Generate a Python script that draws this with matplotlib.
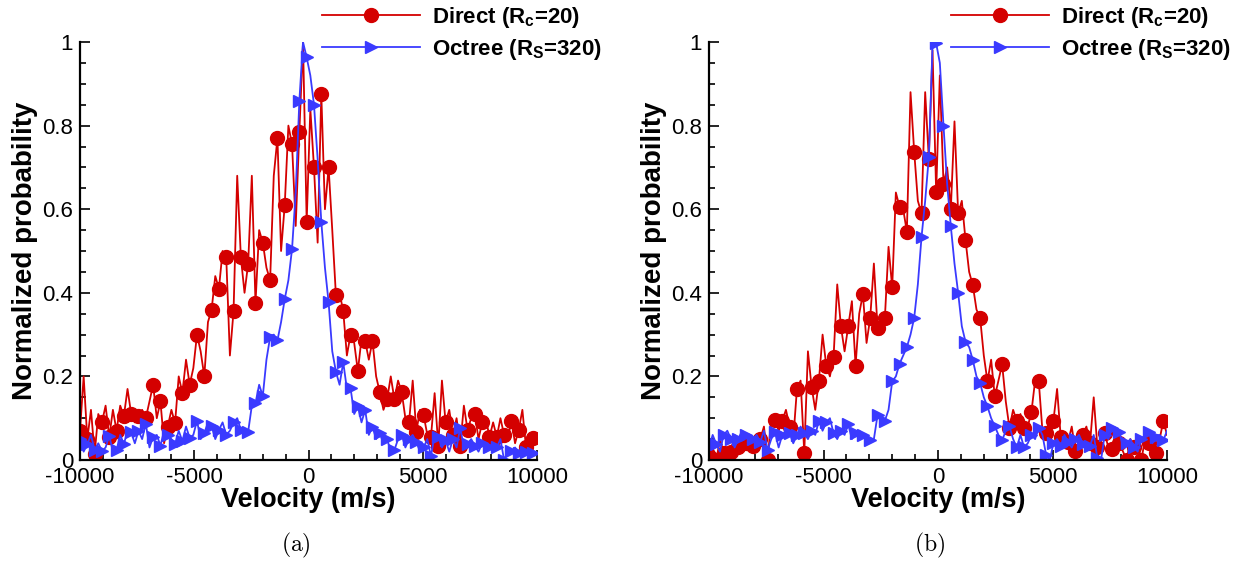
import numpy as np
import matplotlib
matplotlib.use("Agg")
import matplotlib.pyplot as plt
from matplotlib.ticker import MultipleLocator, FuncFormatter

plt.rcParams['font.family'] = ['Liberation Sans', 'DejaVu Sans']
plt.rcParams['axes.unicode_minus'] = False
plt.rcParams['mathtext.fontset'] = 'custom'
plt.rcParams['mathtext.rm'] = 'Liberation Sans'
plt.rcParams['mathtext.bf'] = 'Liberation Sans:bold'
plt.rcParams['mathtext.default'] = 'bf'

# velocity grid (m/s), every second point carries a symbol
velocity = np.arange(-10000, 10001, 160)

# panel (a)
direct_a = [
    0.07, 0.20, 0.05, 0.12, 0.015, 0.11, 0.09, 0.13, 0.055, 0.12,
    0.07, 0.13, 0.105, 0.17, 0.11, 0.09, 0.105, 0.12, 0.10, 0.14,
    0.18, 0.10, 0.14, 0.04, 0.08, 0.12, 0.088, 0.20, 0.16, 0.24,
    0.18, 0.22, 0.30, 0.26, 0.20, 0.33, 0.36, 0.44, 0.41, 0.50,
    0.485, 0.25, 0.356, 0.68, 0.485, 0.40, 0.47, 0.68, 0.375, 0.55,
    0.52, 0.46, 0.43, 0.68, 0.77, 0.50, 0.61, 0.80, 0.755, 0.56,
    0.785, 1.0, 0.57, 0.84, 0.70, 0.52, 0.876, 0.60, 0.70, 0.55,
    0.394, 0.40, 0.356, 0.25, 0.30, 0.28, 0.213, 0.29, 0.285, 0.24,
    0.285, 0.20, 0.162, 0.12, 0.145, 0.20, 0.145, 0.19, 0.162, 0.10,
    0.09, 0.19, 0.068, 0.12, 0.107, 0.06, 0.055, 0.16, 0.034, 0.19,
    0.09, 0.12, 0.06, 0.10, 0.034, 0.13, 0.072, 0.10, 0.11, 0.05,
    0.09, 0.10, 0.055, 0.09, 0.055, 0.10, 0.06, 0.05, 0.094, 0.04,
    0.072, 0.12, 0.03, 0.05, 0.053, 0.04,
]
octree_a = [
    0.05, 0.02, 0.038, 0.06, 0.024, 0.04, 0.021, 0.03, 0.058, 0.02,
    0.024, 0.06, 0.038, 0.07, 0.066, 0.04, 0.07, 0.05, 0.087, 0.03,
    0.055, 0.06, 0.034, 0.07, 0.061, 0.05, 0.038, 0.07, 0.045, 0.08,
    0.053, 0.06, 0.094, 0.05, 0.064, 0.09, 0.081, 0.05, 0.072, 0.09,
    0.06, 0.07, 0.09, 0.10, 0.072, 0.06, 0.068, 0.13, 0.136, 0.18,
    0.153, 0.24, 0.294, 0.30, 0.286, 0.33, 0.385, 0.43, 0.505, 0.64,
    0.86, 1.0, 0.963, 0.92, 0.85, 0.72, 0.57, 0.46, 0.377, 0.26,
    0.211, 0.18, 0.234, 0.17, 0.172, 0.11, 0.128, 0.09, 0.12, 0.06,
    0.08, 0.05, 0.064, 0.04, 0.05, 0.02, 0.024, 0.05, 0.06, 0.03,
    0.05, 0.06, 0.043, 0.02, 0.03, 0.05, 0.009, 0.06, 0.055, 0.03,
    0.047, 0.02, 0.05, 0.03, 0.077, 0.03, 0.038, 0.05, 0.034, 0.02,
    0.04, 0.02, 0.03, 0.04, 0.03, 0.05, 0.0, 0.02, 0.021, 0.03,
    0.017, 0.03, 0.02, 0.01, 0.017, 0.02,
]

# panel (b)
direct_b = [
    0.01, 0.03, 0.0, 0.05, 0.017, 0.01, 0.02, 0.06, 0.03, 0.02,
    0.04, 0.06, 0.034, 0.02, 0.05, 0.08, 0.0, 0.10, 0.096, 0.07,
    0.094, 0.12, 0.08, 0.05, 0.17, 0.19, 0.017, 0.26, 0.175, 0.12,
    0.19, 0.30, 0.226, 0.20, 0.247, 0.42, 0.32, 0.26, 0.32, 0.38,
    0.226, 0.35, 0.397, 0.28, 0.34, 0.47, 0.316, 0.30, 0.34, 0.51,
    0.413, 0.64, 0.606, 0.60, 0.546, 0.88, 0.738, 0.62, 0.59, 0.88,
    0.72, 0.98, 0.64, 0.92, 0.66, 0.70, 0.60, 0.81, 0.59, 0.62,
    0.527, 0.45, 0.418, 0.36, 0.34, 0.25, 0.188, 0.24, 0.152, 0.19,
    0.229, 0.14, 0.077, 0.12, 0.094, 0.11, 0.077, 0.08, 0.115, 0.19,
    0.188, 0.07, 0.064, 0.10, 0.094, 0.17, 0.055, 0.04, 0.043, 0.08,
    0.021, 0.03, 0.06, 0.08, 0.04, 0.15, 0.03, 0.05, 0.064, 0.03,
    0.026, 0.06, 0.04, 0.02, 0.0, 0.05, 0.03, 0.04, 0.0, 0.05,
    0.04, 0.03, 0.017, 0.05, 0.094, 0.06,
]
octree_b = [
    0.03, 0.06, 0.038, 0.02, 0.06, 0.07, 0.05, 0.03, 0.05, 0.07,
    0.061, 0.04, 0.05, 0.06, 0.043, 0.07, 0.024, 0.05, 0.067, 0.03,
    0.06, 0.07, 0.064, 0.04, 0.06, 0.08, 0.064, 0.05, 0.07, 0.06,
    0.094, 0.07, 0.09, 0.10, 0.064, 0.05, 0.07, 0.06, 0.085, 0.05,
    0.064, 0.07, 0.06, 0.06, 0.047, 0.05, 0.107, 0.10, 0.094, 0.12,
    0.188, 0.20, 0.23, 0.25, 0.27, 0.30, 0.34, 0.42, 0.533, 0.62,
    0.725, 0.99, 0.997, 0.95, 0.80, 0.66, 0.559, 0.47, 0.40, 0.32,
    0.283, 0.27, 0.239, 0.20, 0.184, 0.15, 0.128, 0.10, 0.081, 0.06,
    0.047, 0.07, 0.081, 0.05, 0.03, 0.06, 0.03, 0.04, 0.06, 0.05,
    0.077, 0.06, 0.013, 0.0, 0.04, 0.05, 0.034, 0.06, 0.043, 0.03,
    0.05, 0.06, 0.038, 0.04, 0.034, 0.06, 0.004, 0.0, 0.06, 0.05,
    0.077, 0.06, 0.068, 0.03, 0.04, 0.05, 0.03, 0.02, 0.05, 0.06,
    0.068, 0.04, 0.055, 0.06, 0.047, 0.07,
]

labels = [r'Direct (R$_{c}$=20)', r'Octree (R$_{S}$=320)']
red = '#d40000'
blue = '#3a3aff'

fig = plt.figure(figsize=(12.39, 5.61), dpi=100)
ax_a = fig.add_axes([80 / 1239, 101 / 561, 457 / 1239, 418 / 561])
ax_b = fig.add_axes([709 / 1239, 101 / 561, 458 / 1239, 418 / 561])


def draw_panel(ax, direct, octree, legend_x, caption, caption_x):
    ax.plot(velocity, direct, color=red, lw=1.3, marker='o', markersize=10,
            markevery=2, markeredgecolor=red, label=labels[0])
    ax.plot(velocity, octree, color=blue, lw=1.3, marker='>', markersize=8,
            markevery=2, markeredgecolor=blue, label=labels[1])
    ax.set_xlim(-10000, 10000)
    ax.set_ylim(0, 1)
    ax.spines['top'].set_visible(False)
    ax.spines['right'].set_visible(False)
    ax.spines['left'].set_linewidth(1.6)
    ax.spines['bottom'].set_linewidth(1.6)
    ax.xaxis.set_major_locator(MultipleLocator(5000))
    ax.xaxis.set_minor_locator(MultipleLocator(1000))
    ax.yaxis.set_major_locator(MultipleLocator(0.2))
    ax.yaxis.set_minor_locator(MultipleLocator(0.05))
    ax.yaxis.set_major_formatter(FuncFormatter(lambda v, p: '%g' % round(v, 2)))
    ax.tick_params(which='both', direction='in', width=1.2, labelsize=16, pad=5)
    ax.tick_params(which='major', length=7)
    ax.tick_params(which='minor', length=4)
    ax.set_xlabel('Velocity (m/s)', fontsize=19.5, fontweight='bold', labelpad=-1)
    ax.set_ylabel('Normalized probability', fontsize=20, fontweight='bold', labelpad=3)
    ax.legend(loc='upper left', bbox_to_anchor=(legend_x / 1239, 1 - 5 / 561),
              bbox_transform=fig.transFigure, frameon=False, borderpad=0,
              borderaxespad=0, handlelength=4.4, handletextpad=0.55,
              labelspacing=0.3, prop={'weight': 'bold', 'size': 16})
    fig.text(caption_x / 1239, 1 - 545 / 561, r'$\mathrm{(%s)}$' % caption,
             math_fontfamily='cm', fontsize=17, ha='center', va='center')


draw_panel(ax_a, direct_a, octree_a, 322, 'a', 296)
draw_panel(ax_b, direct_b, octree_b, 951, 'b', 930)

fig.savefig('out.png', dpi=100)
